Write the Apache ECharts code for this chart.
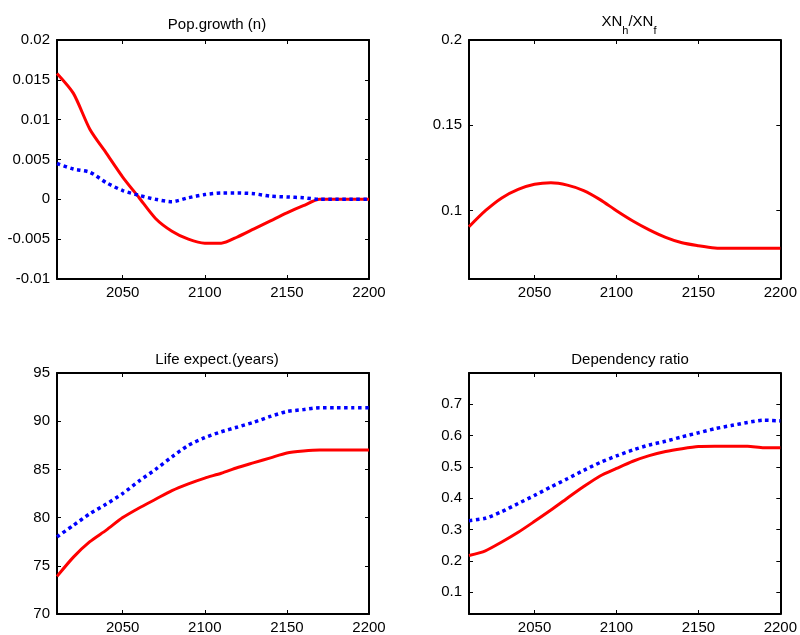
<!DOCTYPE html>
<html>
<head>
<meta charset="utf-8">
<script src="https://cdn.jsdelivr.net/npm/echarts@6/dist/echarts.min.js"></script>
<style>
  html, body { margin: 0; padding: 0; background: #fff; }
  #main { width: 800px; height: 635px; }
</style>
</head>
<body>
<div id="main"></div>
<script>
// years on the x axis (every 10 years)
const years = [2010, 2020, 2030, 2040, 2050, 2060, 2070, 2080, 2090, 2100,
               2110, 2120, 2130, 2140, 2150, 2160, 2170, 2180, 2190, 2200];
const xTicks = [2050, 2100, 2150, 2200];

// Pop.growth (n)
const popRed  = [0.0158, 0.0133, 0.0088, 0.0058, 0.0028, 0.0002, -0.0024, -0.0040, -0.0050, -0.0055,
                 -0.0055, -0.0047, -0.0037, -0.0027, -0.0017, -0.0008, 0, 0, 0, 0];
const popBlue = [0.0045, 0.0038, 0.0034, 0.0021, 0.0011, 0.0005, 0.0000, -0.0003, 0.0002, 0.0006,
                 0.0008, 0.0008, 0.0007, 0.0004, 0.0003, 0.0002, 0, 0, 0, 0];

// XN_h / XN_f
const xnRatio = [0.0906, 0.1000, 0.1075, 0.1125, 0.1155, 0.1164, 0.1150, 0.1118, 0.1065, 0.1000,
                 0.0940, 0.0888, 0.0844, 0.0812, 0.0795, 0.0782, 0.078, 0.078, 0.078, 0.078];

// Life expect.(years)
const lifeRed  = [73.9, 75.9, 77.5, 78.7, 80.0, 81.0, 81.9, 82.8, 83.5, 84.1,
                  84.6, 85.2, 85.7, 86.2, 86.7, 86.9, 87.0, 87.0, 87.0, 87.0];
const lifeBlue = [78.0, 79.2, 80.4, 81.4, 82.5, 83.8, 85.0, 86.3, 87.5, 88.3,
                  88.9, 89.4, 89.9, 90.5, 91.0, 91.2, 91.4, 91.4, 91.4, 91.4];

// Dependency ratio
const depRed  = [0.217, 0.232, 0.260, 0.291, 0.326, 0.362, 0.400, 0.437, 0.471, 0.495,
                 0.518, 0.536, 0.549, 0.558, 0.565, 0.566, 0.566, 0.566, 0.561, 0.561];
const depBlue = [0.328, 0.336, 0.357, 0.383, 0.409, 0.436, 0.462, 0.489, 0.514, 0.535,
                 0.554, 0.570, 0.582, 0.596, 0.609, 0.622, 0.632, 0.642, 0.649, 0.647];

const popTicks  = [-0.01, -0.005, 0, 0.005, 0.01, 0.015, 0.02];
const xnTicks   = [0.1, 0.15, 0.2];
const lifeTicks = [70, 75, 80, 85, 90, 95];
const depTicks  = [0.1, 0.2, 0.3, 0.4, 0.5, 0.6, 0.7];

const FONT = 'Liberation Sans, Arial, sans-serif';

function pairs(ys) {
    return years.map((y, i) => [y, ys[i]]);
}

const grids = [
    { left: 57,  top: 40,  width: 312, height: 239 },
    { left: 469, top: 40,  width: 313, height: 239 },
    { left: 57,  top: 373, width: 312, height: 241 },
    { left: 469, top: 373, width: 313, height: 241 }
];
const yRanges = [
    { min: -0.01, max: 0.02, ticks: popTicks },
    { min: 0.06,  max: 0.2,  ticks: xnTicks },
    { min: 70,    max: 95,   ticks: lifeTicks },
    { min: 0.03,  max: 0.8,  ticks: depTicks }
];

const xAxes = [];
const yAxes = [];
grids.forEach((g, i) => {
    // bottom axis with labels, top axis only for the box + inner ticks
    ['bottom', 'top'].forEach(pos => {
        xAxes.push({
            type: 'value', gridIndex: i, position: pos,
            min: 2010, max: 2200,
            axisLine: { show: true, onZero: false, lineStyle: { color: '#000', width: 2 } },
            axisTick: { show: true, inside: true, length: 4, customValues: xTicks,
                        lineStyle: { color: '#000', width: 1 } },
            axisLabel: { show: pos === 'bottom', customValues: xTicks, margin: 6,
                         formatter: v => String(v),
                         color: '#000', fontSize: 15, fontFamily: FONT },
            splitLine: { show: false }
        });
    });
    const r = yRanges[i];
    ['left', 'right'].forEach(pos => {
        yAxes.push({
            type: 'value', gridIndex: i, position: pos,
            min: r.min, max: r.max,
            axisLine: { show: true, onZero: false, lineStyle: { color: '#000', width: 2 } },
            axisTick: { show: true, inside: true, length: 4, customValues: r.ticks,
                        lineStyle: { color: '#000', width: 1 } },
            axisLabel: { show: pos === 'left', customValues: r.ticks, margin: 7,
                         color: '#000', fontSize: 15, fontFamily: FONT },
            splitLine: { show: false }
        });
    });
});

function redLine(i, data) {
    return {
        type: 'line', xAxisIndex: i * 2, yAxisIndex: i * 2, data: pairs(data),
        showSymbol: false, smooth: 0.25, z: 3,
        lineStyle: { color: '#ff0000', width: 3 }
    };
}
function blueLine(i, data) {
    return {
        type: 'line', xAxisIndex: i * 2, yAxisIndex: i * 2, data: pairs(data),
        showSymbol: false, smooth: 0.25, z: 4,
        lineStyle: { color: '#0000ff', width: 3.5, type: [3.5, 3.5], cap: 'butt' }
    };
}

const titleStyle = { color: '#000', fontSize: 15, fontWeight: 'normal', fontFamily: FONT };

const option = {
    animation: false,
    backgroundColor: '#fff',
    title: [
        { text: 'Pop.growth (n)', left: 212, top: 12, textAlign: 'center', textStyle: titleStyle },
        {
            text: '{a|XN}{s|h}{a|/XN}{s|f}', left: 624, top: 9, textAlign: 'center',
            textStyle: {
                fontWeight: 'normal',
                rich: {
                    a: { color: '#000', fontSize: 15, fontWeight: 'normal', fontFamily: FONT,
                         lineHeight: 22, verticalAlign: 'top' },
                    s: { color: '#000', fontSize: 11, fontWeight: 'normal', fontFamily: FONT,
                         lineHeight: 22, verticalAlign: 'bottom', padding: [7, 0, 0, 0] }
                }
            }
        },
        { text: 'Life expect.(years)', left: 212, top: 347, textAlign: 'center', textStyle: titleStyle },
        { text: 'Dependency ratio', left: 625, top: 347, textAlign: 'center', textStyle: titleStyle }
    ],
    grid: grids,
    xAxis: xAxes,
    yAxis: yAxes,
    series: [
        redLine(0, popRed),
        blueLine(0, popBlue),
        redLine(1, xnRatio),
        redLine(2, lifeRed),
        blueLine(2, lifeBlue),
        redLine(3, depRed),
        blueLine(3, depBlue)
    ]
};

const myChart = echarts.init(document.getElementById('main'));
myChart.setOption(option);
</script>
</body>
</html>
